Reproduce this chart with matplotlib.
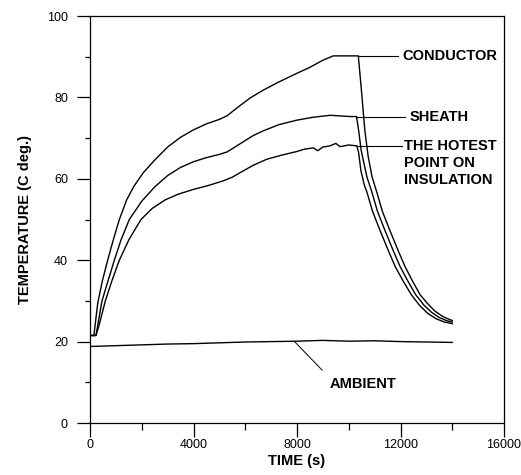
"""Temperature rise and cooling of a cable: conductor, sheath, insulation hot spot and ambient."""
import matplotlib
matplotlib.use("Agg")
import matplotlib.pyplot as plt
from matplotlib.ticker import MultipleLocator

plt.rcParams["font.family"] = ["Liberation Sans", "DejaVu Sans"]

# values (time in s, temperature in C)
conductor_t = [0, 150, 300, 480, 683, 900, 1134, 1416, 1700, 2060, 2500, 3000, 3500,
               3990, 4500, 5000, 5300, 5800, 6200, 6700, 7300, 7990, 8500, 9020, 9400,
               9900, 10370, 10500, 10620, 10750, 10900, 11080, 11300, 11590, 11900,
               12170, 12470, 12760, 13050, 13330, 13620, 13900, 14000]
conductor_T = [21.5, 21.5, 29.5, 35.0, 40.0, 45.0, 50.0, 54.8, 58.2, 61.5, 64.6, 67.8, 70.2,
               72.0, 73.5, 74.6, 75.5, 78.0, 79.9, 81.8, 83.8, 85.9, 87.4, 89.2, 90.2,
               90.2, 90.2, 81.0, 72.0, 65.5, 60.5, 56.8, 52.0, 47.3, 42.5,
               38.5, 34.8, 31.5, 29.3, 27.5, 26.2, 25.4, 25.2]

sheath_t = [0, 230, 464, 700, 940, 1200, 1520, 2000, 2500, 3000, 3500, 4000, 4500, 5000,
            5300, 5800, 6300, 6700, 7300, 7990, 8600, 9280, 10050, 10300, 10380, 10480,
            10560, 10700, 10890, 11110, 11400, 11710, 11980, 12290, 12590, 12900, 13200,
            13500, 13800, 14000]
sheath_T = [21.5, 21.5, 30.0, 35.0, 40.0, 45.0, 50.0, 54.5, 58.0, 60.8, 62.8, 64.2, 65.2, 66.0,
            66.6, 68.6, 70.6, 71.8, 73.3, 74.4, 75.1, 75.6, 75.3, 75.3, 72.0, 67.0,
            64.6, 60.5, 56.8, 52.0, 47.3, 42.5, 38.5, 34.8, 31.5, 29.0, 27.2,
            25.9, 25.1, 24.8]

hotspot_t = [0, 230, 350, 593, 850, 1134, 1500, 1970, 2400, 2900, 3400, 4000, 4600, 5150,
             5500, 5800, 6300, 6830, 7400, 7990, 8300, 8630, 8800, 9000, 9280, 9500, 9660,
             10000, 10310, 10380, 10470, 10600, 10700, 10920, 11210, 11520, 11790, 12110,
             12420, 12750, 13060, 13380, 13700, 14000]
hotspot_T = [21.5, 21.5, 24.0, 30.0, 35.0, 40.0, 45.0, 50.0, 52.7, 54.8, 56.2, 57.4, 58.4, 59.5,
             60.4, 61.5, 63.3, 64.8, 65.8, 66.7, 67.3, 67.6, 66.9, 67.8, 68.1, 68.7, 67.9,
             68.3, 68.1, 66.5, 62.0, 58.5, 56.8, 52.0, 47.3, 42.5, 38.5, 34.8,
             31.5, 28.8, 26.9, 25.6, 24.8, 24.4]

ambient_t = [0, 1000, 2000, 3000, 4000, 5000, 6000, 7000, 8000, 9000, 10000, 11000, 12000,
             13000, 14000]
ambient_T = [18.8, 19.0, 19.2, 19.4, 19.5, 19.7, 19.9, 20.0, 20.1, 20.3, 20.1, 20.2, 20.0,
             19.9, 19.8]

fig = plt.figure(figsize=(5.21, 4.75), dpi=100)
ax = fig.add_axes([90 / 521, 52 / 475, 414 / 521, 407 / 475])

for t, T in [(conductor_t, conductor_T), (sheath_t, sheath_T),
             (hotspot_t, hotspot_T), (ambient_t, ambient_T)]:
    ax.plot(t, T, color="black", lw=1.0)

ax.set_xlim(0, 16000)
ax.set_ylim(0, 100)
ax.xaxis.set_major_locator(MultipleLocator(4000))
ax.xaxis.set_minor_locator(MultipleLocator(2000))
ax.yaxis.set_major_locator(MultipleLocator(20))
ax.yaxis.set_minor_locator(MultipleLocator(10))
ax.tick_params(axis="x", which="major", direction="out", length=10, width=0.9,
               pad=1.5, labelsize=9)
ax.tick_params(axis="x", which="minor", direction="out", length=5, width=0.9)
ax.tick_params(axis="y", which="major", direction="out", length=9.4, width=0.9,
               pad=6.5, labelsize=9)
ax.tick_params(axis="y", which="minor", direction="out", length=3.6, width=0.9)
for side in ax.spines.values():
    side.set_linewidth(0.9)

ax.set_xlabel("TIME (s)", fontsize=10.5, fontweight="bold")
ax.set_ylabel("TEMPERATURE (C deg.)", fontsize=10.5, fontweight="bold")
ax.xaxis.set_label_coords(0.5, -0.075)
ax.yaxis.set_label_coords(-0.14, 0.5)

label_kw = dict(fontsize=10.5, fontweight="bold", va="center", ha="left")

ax.plot([10370, 11900], [90.2, 90.2], color="black", lw=0.8)
ax.text(12060, 90.2, "CONDUCTOR", **label_kw)

ax.plot([10300, 12180], [75.3, 75.3], color="black", lw=0.8)
ax.text(12370, 75.3, "SHEATH", **label_kw)

ax.plot([10310, 12050], [68.1, 68.1], color="black", lw=0.8)
ax.text(12140, 68.1, "THE HOTEST", **label_kw)
ax.text(12140, 63.8, "POINT ON", **label_kw)
ax.text(12140, 59.6, "INSULATION", **label_kw)

ax.plot([7920, 8970], [19.9, 13.0], color="black", lw=0.7)
ax.text(9280, 9.6, "AMBIENT", **label_kw)

fig.savefig("out.png", dpi=100)
